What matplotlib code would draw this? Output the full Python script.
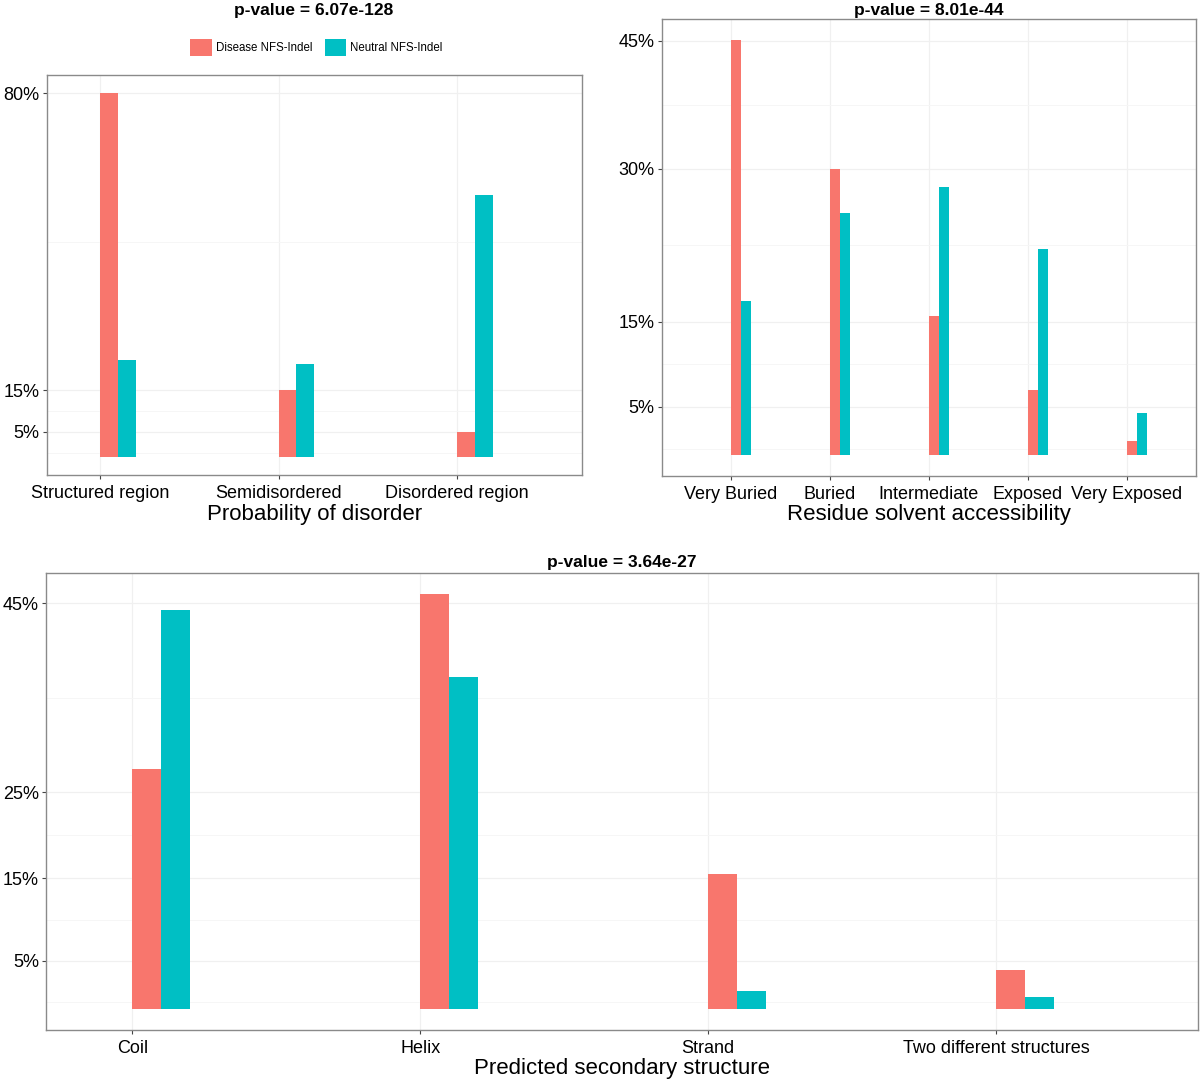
import matplotlib
matplotlib.use("Agg")
import matplotlib.pyplot as plt
from matplotlib.patches import Patch
import numpy as np

plt.rcParams["font.family"] = ["Liberation Sans", "DejaVu Sans"]

DISEASE = "#F8766D"
NEUTRAL = "#00BFC4"
W, H = 1200, 1080

# --- data (percent) ---
disorder_cats = ["Structured region", "Semidisordered", "Disordered region"]
disorder_disease = [80.0, 14.6, 5.5]
disorder_neutral = [21.3, 20.5, 57.5]
disorder_ticks = [5.5, 14.6, 80.0]
disorder_tick_labels = ["5%", "15%", "80%"]

access_cats = ["Very Buried", "Buried", "Intermediate", "Exposed", "Very Exposed"]
access_disease = [45.0, 31.0, 15.0, 7.0, 1.5]
access_neutral = [16.7, 26.2, 29.0, 22.3, 4.5]
access_ticks = [5.2, 14.4, 31.0, 44.9]
access_tick_labels = ["5%", "15%", "30%", "45%"]

struct_cats = ["Coil", "Helix", "Strand", "Two different structures"]
struct_disease = [26.6, 46.0, 14.9, 4.3]
struct_neutral = [44.2, 36.8, 2.0, 1.3]
struct_ticks = [5.3, 14.5, 24.0, 45.0]
struct_tick_labels = ["5%", "15%", "25%", "45%"]

fig = plt.figure(figsize=(W / 100, H / 100), dpi=100)


def px_axes(left, top, right, bottom):
    return fig.add_axes([left / W, 1 - bottom / H, (right - left) / W, (bottom - top) / H])


def panel(ax, cats, dis, neu, ticks, tick_labels, xlabel, xlim):
    x = np.arange(1, len(cats) + 1)
    bw = 0.1
    ax.bar(x, dis, width=bw, align="edge", color=DISEASE, zorder=3)
    ax.bar(x + bw, neu, width=bw, align="edge", color=NEUTRAL, zorder=3)
    top = max(max(dis), max(neu))
    ax.set_ylim(-0.05 * top, 1.05 * top)
    ax.set_xlim(*xlim)
    ax.set_xticks(x)
    ax.set_xticklabels(cats, fontsize=13)
    ax.set_yticks(ticks)
    ax.set_yticklabels(tick_labels, fontsize=13)
    # minor grid half way between breaks, plus one below the lowest
    t = sorted(ticks)
    minors = [(a + b) / 2 for a, b in zip(t[:-1], t[1:])]
    minors.append(t[0] - (t[1] - t[0]) / 2)
    ax.set_yticks(minors, minor=True)
    ax.tick_params(axis="y", which="minor", length=0)
    ax.grid(True, which="major", color="#f0f0f0", lw=0.9, zorder=0)
    ax.grid(True, which="minor", axis="y", color="#f6f6f6", lw=0.7, zorder=0)
    ax.tick_params(which="major", length=3, width=0.8, color="#444444",
                   labelcolor="black")
    ax.tick_params(axis="x", which="major", pad=4.5)
    ax.tick_params(axis="y", which="major", pad=2.0)
    for s in ax.spines.values():
        s.set_color("#8a8a8a")
        s.set_linewidth(1.0)
    ax.set_xlabel(xlabel, fontsize=16, labelpad=1)


ax1 = px_axes(46.7, 75, 581.7, 475)
panel(ax1, disorder_cats, disorder_disease, disorder_neutral, disorder_ticks,
      disorder_tick_labels, "Probability of disorder", (0.7, 3.7))
fig.text(314 / W, 1 - 10 / H, "p-value = 6.07e-128", ha="center", va="center",
         fontsize=12.5, fontweight="bold")

ax2 = px_axes(661.7, 19, 1196, 475.5)
panel(ax2, access_cats, access_disease, access_neutral, access_ticks,
      access_tick_labels, "Residue solvent accessibility", (0.3, 5.7))
fig.text(929 / W, 1 - 10 / H, "p-value = 8.01e-44", ha="center", va="center",
         fontsize=12.5, fontweight="bold")

ax3 = px_axes(46, 573.3, 1197.7, 1029.5)
panel(ax3, struct_cats, struct_disease, struct_neutral, struct_ticks,
      struct_tick_labels, "Predicted secondary structure", (0.7, 4.7))
fig.text(622 / W, 1 - 563 / H, "p-value = 3.64e-27", ha="center", va="center",
         fontsize=12.5, fontweight="bold")

handles = [Patch(facecolor=DISEASE), Patch(facecolor=NEUTRAL)]
fig.legend(handles, ["Disease NFS-Indel", "Neutral NFS-Indel"], ncol=2,
           loc="center", bbox_to_anchor=(316.5 / W, 1 - 47.5 / H), frameon=False,
           fontsize=8.3, handlelength=1.85, handleheight=1.85,
           handletextpad=0.35, columnspacing=1.1, borderpad=0)

fig.savefig("out.png", dpi=100)
